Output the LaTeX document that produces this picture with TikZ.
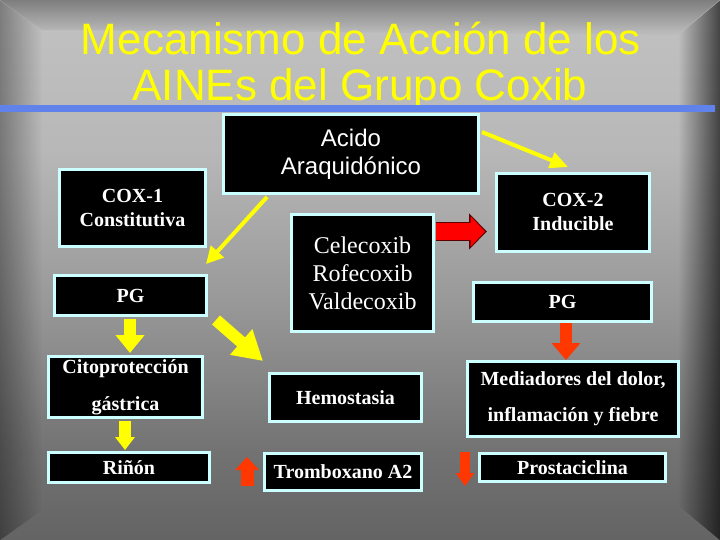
\documentclass[tikz,border=0pt]{standalone}
\usepackage{fontspec}
\setmainfont{Liberation Serif}
\newfontfamily\arialf{Liberation Sans}
\usetikzlibrary{arrows.meta,fadings}
\definecolor{bord}{RGB}{204,255,255}
\definecolor{yel}{RGB}{255,255,0}
\definecolor{barblue}{RGB}{95,130,235}
\definecolor{ora}{RGB}{255,55,0}
\definecolor{rojo}{RGB}{255,0,0}
\definecolor{rojoosc}{RGB}{90,0,0}
\tikzset{
  box/.style={draw=bord, fill=black, line width=3pt, text=white, inner sep=0pt, align=center},
  bt/.style={font=\bfseries\fontsize{20}{24}\selectfont},
  yarrow/.style={draw=yel, line width=#1},
  rarrow/.style={draw=ora, line width=#1},
}
\begin{document}
\begin{tikzpicture}[x=1pt,y=-1pt]
\useasboundingbox (0,0) rectangle (720,540);
% background
\shade[top color={black!24!white}, bottom color={black!28!white}] (0,-1) rectangle (720,150);
\shade[top color={black!28!white}, bottom color={black!40!white}] (0,150) rectangle (720,300);
\shade[top color={black!40!white}, bottom color={black!55!white}] (0,300) rectangle (720,450);
\shade[top color={black!55!white}, bottom color={black!61!white}] (0,450) rectangle (720,541);
\fill[black, opacity=0.35, path fading=east] (0,0) -- (42,30) -- (42,510) -- (0,540) -- cycle;
\fill[black, opacity=0.65, path fading=west] (720,0) -- (678,35) -- (678,505) -- (720,540) -- cycle;
\fill[black, opacity=0.35, path fading=south] (0,0) -- (720,0) -- (678,35) -- (42,30) -- cycle;
% title
\node[anchor=base, text=yel, font=\arialf\fontsize{44}{46}\selectfont] (t1) at (361,55) {Mecanismo de Acción de los};
\node[anchor=base, text=yel, font=\arialf\fontsize{44}{46}\selectfont] (t2) at (360,101) {AINEs del Grupo Coxib};
\fill[barblue] (0,105) rectangle (715,112);
% boxes
\node[box, minimum width=255pt, minimum height=79pt, font=\arialf\fontsize{24}{28}\selectfont] (acido) at (351,154) {Acido\\Araquidónico};
\node[box, bt, minimum width=146pt, minimum height=77pt] (cox1) at (132.5,208) {COX-1\\Constitutiva};
\node[box, bt, minimum width=152pt, minimum height=40pt] (pgl) at (130.5,295.5) {PG};
\node[box, minimum width=142pt, minimum height=117pt, font=\fontsize{24}{28}\selectfont] (cele) at (362.5,273) {Celecoxib\\Rofecoxib\\Valdecoxib};
\node[box, bt, minimum width=153pt, minimum height=78pt] (cox2) at (573,212.5) {COX-2\\Inducible};
\node[box, bt, minimum width=178pt, minimum height=39pt] (pgr) at (562.5,302) {PG};
\node[box, font=\bfseries\fontsize{20}{37}\selectfont, minimum width=154pt, minimum height=61pt] (cito) at (125.5,387) {Citoprotección\\gástrica};
\node[box, bt, minimum width=161pt, minimum height=30pt] (rinon) at (129,467.5) {Riñón};
\node[box, bt, minimum width=152pt, minimum height=48pt] (hemo) at (345.5,397.5) {Hemostasia};
\node[box, bt, minimum width=157pt, minimum height=37pt] (trombo) at (343,472) {Tromboxano A2};
\node[box, font=\bfseries\fontsize{20}{36}\selectfont, minimum width=211pt, minimum height=75pt] (medi) at (573,399) {Mediadores del dolor,\\inflamación y fiebre};
\node[box, bt, minimum width=186pt, minimum height=28pt] (prosta) at (572.5,467.5) {Prostaciclina};
% arrow end points
\coordinate (a1s) at (267,197);
\coordinate (a1e) at (206,264);
\coordinate (a2s) at (482,132);
\coordinate (a2e) at (568,167);
\coordinate (a3s) at (216,320);
\coordinate (a3e) at (263,361);
\coordinate (a4s) at (130,319);
\coordinate (a4e) at (130,353);
\coordinate (a5s) at (125,421);
\coordinate (a5e) at (125,450);
\coordinate (a6s) at (247,486);
\coordinate (a6e) at (247,457);
\coordinate (a7s) at (465,452);
\coordinate (a7e) at (465,486);
\coordinate (a8s) at (566,323);
\coordinate (a8e) at (566,360);
\coordinate (a9s) at (436,231.5);
\coordinate (a9e) at (487,231.5);
\coordinate (a9f) at (485,231.5);
% arrows
\draw[yarrow=4pt, -{Triangle[length=17pt,width=17pt]}] (a1s) -- (a1e);
\draw[yarrow=4pt, -{Triangle[length=18pt,width=16pt]}] (a2s) -- (a2e);
\draw[yarrow=12pt, -{Triangle[length=29pt,width=32pt]}] (a3s) -- (a3e);
\draw[yarrow=12pt, -{Triangle[length=18pt,width=28pt]}] (a4s) -- (a4e);
\draw[yarrow=12pt, -{Triangle[length=13pt,width=19pt]}] (a5s) -- (a5e);
\draw[rarrow=13pt, -{Triangle[length=13pt,width=23pt]}] (a6s) -- (a6e);
\draw[rarrow=10pt, -{Triangle[length=13pt,width=18pt]}] (a7s) -- (a7e);
\draw[rarrow=12pt, -{Triangle[length=17pt,width=28pt]}] (a8s) -- (a8e);
\draw[draw=rojoosc, line width=19pt, -{Triangle[length=18pt,width=35pt]}] (a9s) -- (a9e);
\draw[draw=rojo, line width=16pt, -{Triangle[length=14.5pt,width=30pt]}] (a9s) -- (a9f);
\end{tikzpicture}
\end{document}
